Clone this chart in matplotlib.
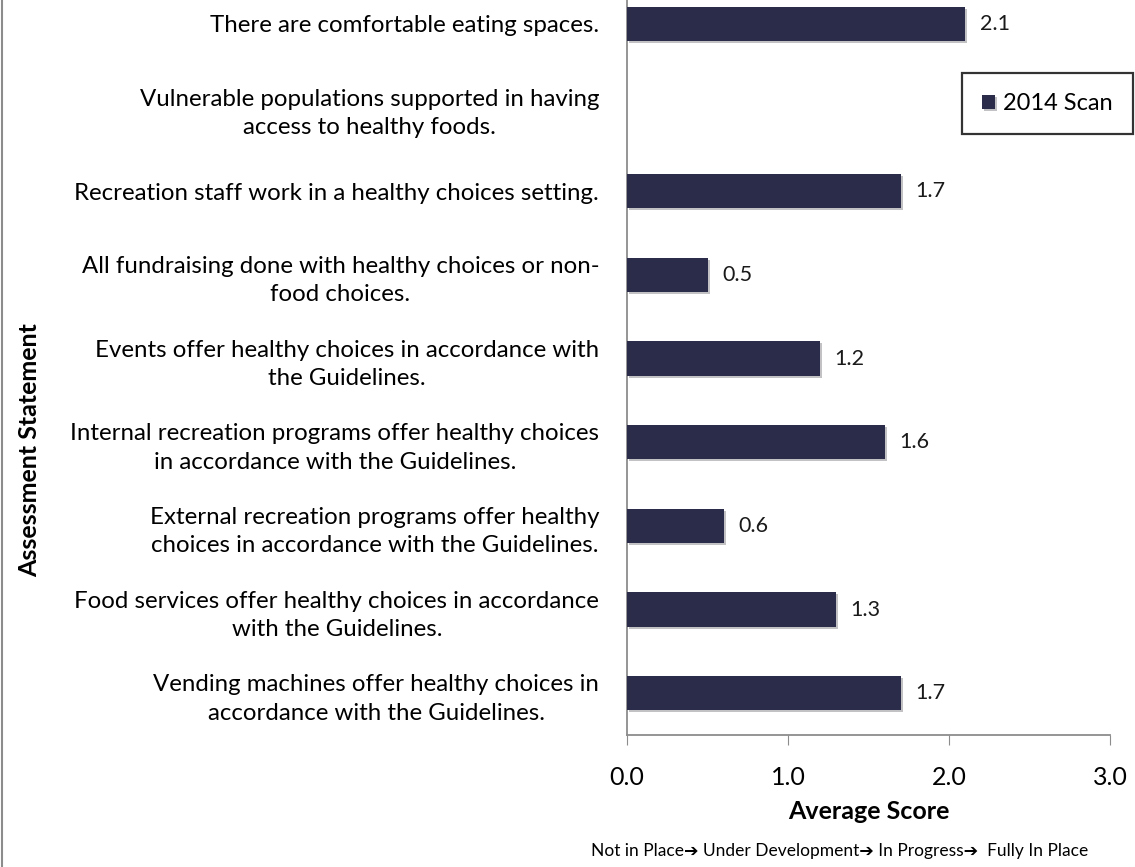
import numpy as np
import matplotlib.pyplot as plt
import matplotlib.patheffects as pe
from matplotlib.lines import Line2D

# statements listed top to bottom, average score per statement (2014 scan)
statements = [
    "There are comfortable eating spaces.",
    "Vulnerable populations supported in having\naccess to healthy foods.",
    "Recreation staff work in a healthy choices setting.",
    "All fundraising done with healthy choices or non-\nfood choices.",
    "Events offer healthy choices in accordance with\nthe Guidelines.",
    "Internal recreation programs offer healthy choices\nin accordance with the Guidelines.",
    "External recreation programs offer healthy\nchoices in accordance with the Guidelines.",
    "Food services offer healthy choices in accordance\nwith the Guidelines.",
    "Vending machines offer healthy choices in\naccordance with the Guidelines.",
]
scores_2014 = [2.1, np.nan, 1.7, 0.5, 1.2, 1.6, 0.6, 1.3, 1.7]
x_ticks = [0.0, 1.0, 2.0, 3.0]
series_name = "2014 Scan"

bar_color = "#2b2b4a"
axis_gray = "#8c8c8c"
fonts = ["Lato", "DejaVu Sans"]

plt.rcParams["font.family"] = fonts

fig = plt.figure(figsize=(11.35, 8.67), dpi=100)
W, H = 1135, 867
# plot area in pixels: left 627, right 1110, top sits above the canvas, bottom 735
left, right, top, bottom = 627, 1110, -18, 735
ax = fig.add_axes([left / W, 1 - bottom / H, (right - left) / W, (bottom - top) / H])

n = len(statements)
ypos = np.arange(n)[::-1]
bars = ax.barh(ypos, np.nan_to_num(scores_2014), height=0.41, color=bar_color,
               label=series_name, zorder=3)
for b in bars:
    b.set_path_effects([pe.SimplePatchShadow(offset=(1.5, -1.5), alpha=0.25), pe.Normal()])

for y, v in zip(ypos, scores_2014):
    if np.isnan(v):
        continue
    ax.text(v + 0.09, y, f"{v:.1f}", va="center", ha="left", fontsize=15.5, color="#1a1a1a")

ax.set_ylim(-0.5, n - 0.5)
ax.set_xlim(0, 3)
ax.set_yticks(ypos)
ax.set_yticklabels(statements, fontsize=17.3, multialignment="center", linespacing=1.45)
ax.tick_params(axis="y", length=0, pad=20)
ax.set_xticks(x_ticks)
ax.set_xticklabels([f"{t:.1f}" for t in x_ticks], fontsize=18)
ax.tick_params(axis="x", direction="out", length=7, color=axis_gray, pad=15)

for side in ("top", "right"):
    ax.spines[side].set_visible(False)
for side in ("left", "bottom"):
    ax.spines[side].set_color(axis_gray)
    ax.spines[side].set_linewidth(1.3)

ax.set_xlabel("Average Score", fontsize=18, fontweight="bold", labelpad=8)

fig.text(30 / W, 1 - 450 / H, "Assessment Statement", rotation=90, ha="center",
         va="center", fontsize=18, fontweight="bold")

fig.text(840 / W, 1 - 851 / H,
         "Not in Place\u2794 Under Development\u2794 In Progress\u2794  Fully In Place",
         ha="center", va="center", fontsize=12.5)

leg = ax.legend(loc="upper right", bbox_to_anchor=(1133 / W, 1 - 73 / H),
                bbox_transform=fig.transFigure, fontsize=17, frameon=True,
                fancybox=False, handlelength=0.55, handleheight=0.55,
                handletextpad=0.35, borderpad=0.85, borderaxespad=0)
leg.get_frame().set_edgecolor("black")
leg.get_frame().set_linewidth(1.6)

# thin gray frame edge on the left of the canvas
fig.add_artist(Line2D([2 / W, 2 / W], [0, 1], transform=fig.transFigure,
                      color=axis_gray, linewidth=1.5))

fig.savefig("out.png", dpi=100)
